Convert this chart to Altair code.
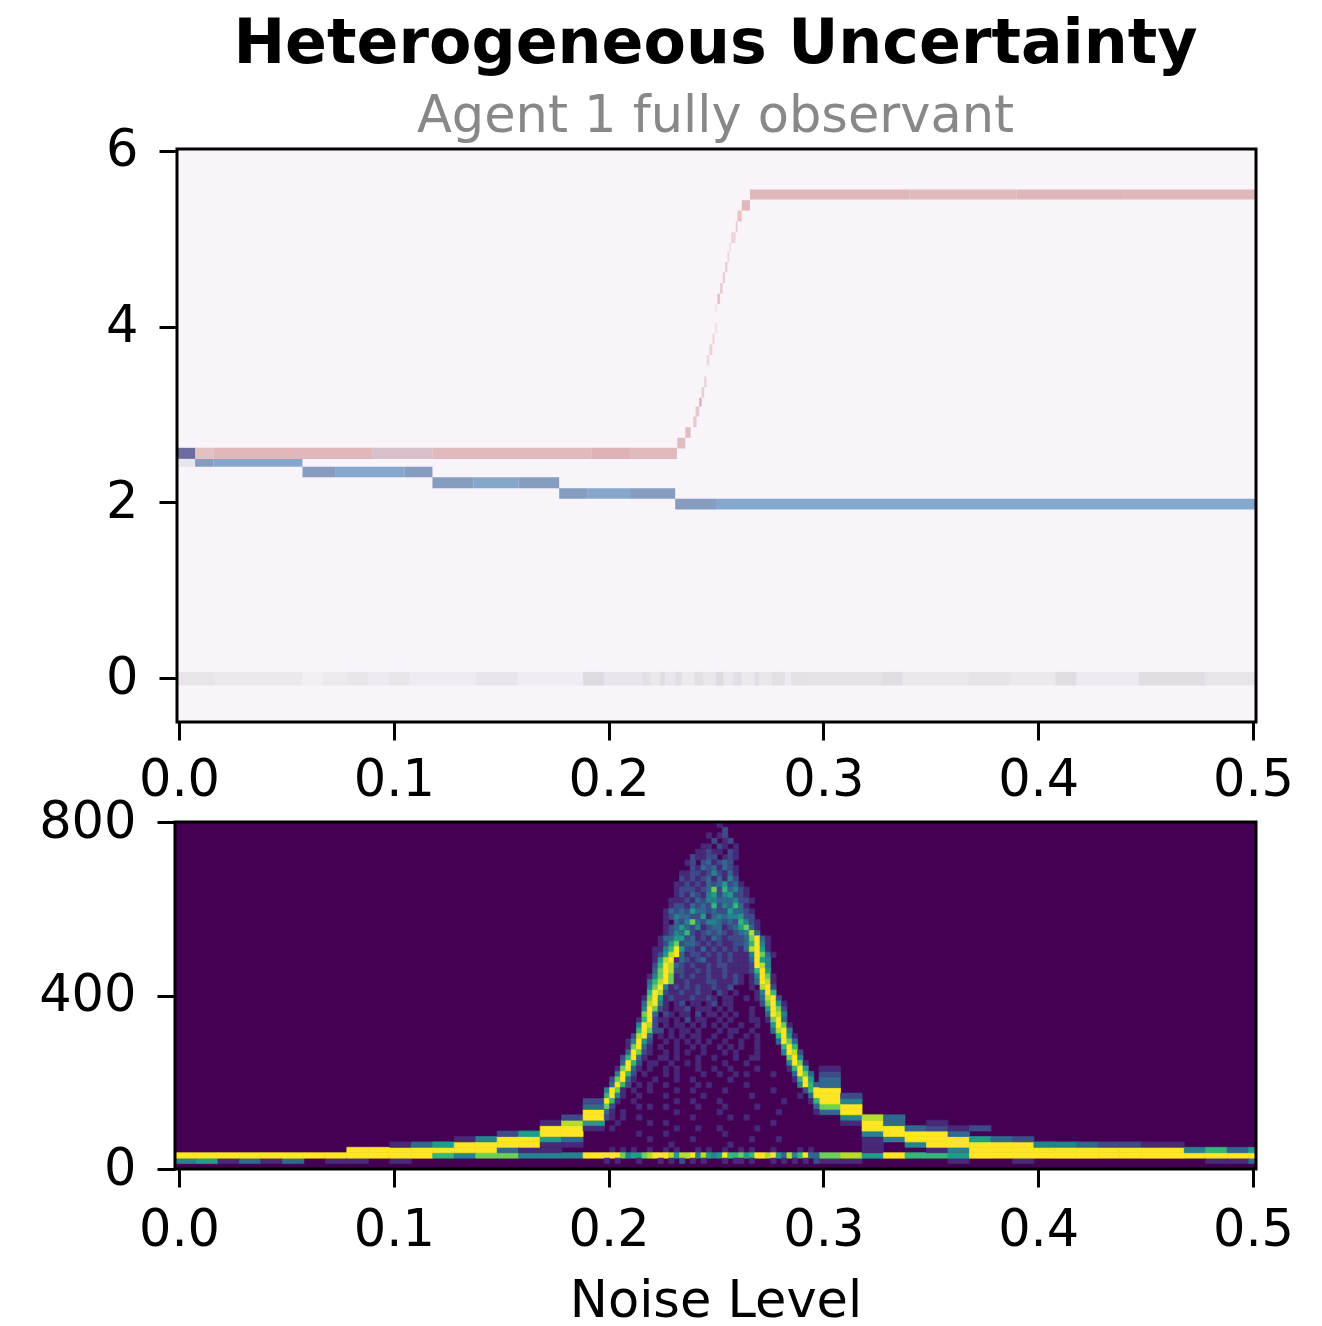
import altair as alt
import pandas as pd

FONT = "DejaVu Sans"
X_MIN, X_MAX = -0.00186, 0.5014
TOP_LEFT = -0.00093
X_TICKS = [0.0, 0.1, 0.2, 0.3, 0.4, 0.5]

# ---- top panel: bands (x0, x1, y0, y1, series, strength)
RED_FLAT = [
    (0.0075, 0.0160, "red", 0.70), (0.0160, 0.0900, "red", 0.82), (0.0900, 0.1180, "redgrey", 0.70),
    (0.1180, 0.1920, "red", 0.78), (0.1920, 0.2100, "red", 0.88), (0.2100, 0.2318, "red", 0.78),
]
RED_FLAT_Y = (2.494, 2.620)
RED_HIGH = [(0.2658, 0.3400, "red", 0.82), (0.3400, 0.3900, "red", 0.78), (0.3900, 0.4400, "red", 0.84),
            (0.4400, 0.5014, "red", 0.80)]
RED_HIGH_Y = (5.444, 5.558)
RISE = [
    (0.2320, 0.2357, 2.612, 2.734, 0.75), (0.2357, 0.2382, 2.734, 2.855, 0.75), (0.2394, 0.2410, 2.855, 2.976, 0.55),
    (0.2405, 0.2422, 2.976, 3.090, 0.60), (0.2422, 0.2433, 3.090, 3.189, 0.95), (0.2433, 0.2445, 3.189, 3.310, 0.50),
    (0.2445, 0.2456, 3.310, 3.432, 0.45), (0.2456, 0.2469, 3.554, 3.675, 0.35), (0.2469, 0.2483, 3.675, 3.797, 0.45),
    (0.2483, 0.2494, 3.797, 3.918, 0.35), (0.2494, 0.2506, 3.918, 4.040, 0.20), (0.2494, 0.2506, 4.161, 4.256, 0.15),
    (0.2506, 0.2519, 4.256, 4.374, 0.65), (0.2519, 0.2531, 4.374, 4.495, 0.55), (0.2531, 0.2542, 4.495, 4.617, 0.50),
    (0.2542, 0.2553, 4.617, 4.734, 0.50), (0.2553, 0.2562, 4.734, 4.856, 0.35), (0.2562, 0.2570, 4.856, 4.950, 0.30),
    (0.2570, 0.2592, 4.950, 5.072, 0.40), (0.2592, 0.2600, 5.072, 5.197, 0.55), (0.2600, 0.2620, 5.197, 5.319, 0.65),
    (0.2620, 0.2658, 5.319, 5.437, 0.80),
]
BLUE_STEPS = [
    (0.0075, 0.0575, 2.403, 2.494), (0.0575, 0.1180, 2.284, 2.403), (0.1180, 0.1770, 2.160, 2.284),
    (0.1770, 0.2310, 2.040, 2.160), (0.2310, 0.5014, 1.917, 2.040),
]
BLUE_STEP_TONES = [
    [(0.0075, 0.0160, "bluegrey"), (0.0160, 0.0575, "blue")],
    [(0.0575, 0.0730, "bluegrey"), (0.0730, 0.1050, "blue"), (0.1050, 0.1180, "bluegrey")],
    [(0.1180, 0.1370, "bluegrey"), (0.1370, 0.1580, "blue"), (0.1580, 0.1770, "bluegrey")],
    [(0.1770, 0.1900, "bluegrey"), (0.1900, 0.2100, "blue"), (0.2100, 0.2310, "bluegrey")],
    [(0.2310, 0.2500, "bluegrey"), (0.2500, 0.5014, "blue")],
]
OVERLAP_CELL = (X_MIN, 0.0075, 2.494, 2.620)
OVERLAP_UNDER = (X_MIN, 0.0075, 2.403, 2.494)
ZERO_Y = (-0.085, 0.070)
ZERO_EDGES = [
    X_MIN, 0.0168, 0.0572, 0.0670, 0.0783, 0.0880, 0.0977, 0.1074, 0.1381, 0.1575, 0.1882, 0.1979,
    0.2156, 0.2195, 0.2240, 0.2262, 0.2310, 0.2340, 0.2400, 0.2440, 0.2500, 0.2535, 0.2580, 0.2620,
    0.2680, 0.2700, 0.2760, 0.2820, 0.2850, 0.2932, 0.3272, 0.3369, 0.3676, 0.3870, 0.4080, 0.4177,
    0.4468, 0.4775, 0.5014,
]
ZERO_STRENGTH = [
    0.38, 0.28, 0.12, 0.25, 0.36, 0.22, 0.36, 0.20, 0.33, 0.18, 0.62, 0.35,
    0.50, 0.30, 0.60, 0.35, 0.55, 0.25, 0.50, 0.32, 0.62, 0.30, 0.48, 0.28,
    0.52, 0.34, 0.50, 0.22, 0.44, 0.42, 0.55, 0.30, 0.40, 0.28, 0.55, 0.22,
    0.55, 0.38,
]

# ---- bottom panel: coarse columns, each string is one column, bottom row first
ROW_H = 12.5
COARSE_W = 0.01
COARSE_START_LEFT = -0.00186
LEFT_COLS = [
    "049", "059", "019", "039", "019", "039", "009", "019", "0199", "0099",
    "01991", "00993", "00695", "004991", "007994", "0073992", "0041995",
    "004115991", "0040139982", "0090000159932",
]
RIGHT_START = 0.298
RIGHT_COLS = [
    "0170000000379993321", "01800000149942", "0051114998", "0090049933", "00604993",
    "006199921", "01549931", "00999502", "00999300", "01999200",
    "00994", "00994", "00993", "00992", "00992", "00991", "00991",
    "0094", "0196", "0193", "0395",
]

# ---- bottom panel: fine grid around the peak, 40 columns, rows listed from top (row 63) down
FINE_START = 0.198
FINE_W = 0.0025
FINE_TOP_ROW = 63
FINE_ROWS = [
    "..... ..... ..... ..... .1...",
    "..... ..... ..... ..... ..2..",
    "..... ..... ..... ....1 .12..",
    "..... ..... ..... ..... 2.12.",
    "..... ..... ..... ...11 .21.1",
    "..... ..... ..... ..112 11.21",
    "..... ..... ..... .2112 2.121",
    "..... ..... ..... 12.23 1232.",
    "..... ..... ..... .2132 31321",
    "..... ..... ....1 12212 42131",
    "..... ..... ....2 12123 13142",
    "..... ..... ...11 21213 23523 1",
    "..... ..... ...12 22123 72634 21",
    "..... ..... ...12 13214 52452 21",
    "..... ..... ..111 21324 43334 221",
    "..... ..... ..122 13232 62436 31",
    "..... ..... .1323 25332 32253 321",
    "..... ..... .1243 32251 34344 522",
    "..... ..... .1.32 47324 43232 6421.",
    "..... ..... .1235 32412 33123 5731.",
    "..... ..... .1243 62123 23212 3483.",
    "..... ..... 13355 23121 32122 23793 1",
    "..... ..... 12572 33212 12112 23694 1",
    "..... ....1 14695 22131 21212 13895 1",
    "..... ....1 25893 12212 12121 11497 31",
    "..... ....1 58913 21231 12121 11395 4",
    "..... ....2 69832 12112 12211 11298 4",
    "..... ....3 79822 11212 11211 11269 5",
    "..... ...14 79712 12112 11212 1.149 71",
    "..... ...36 89711 21112 21112 1.139 81...",
    "..... ...47 94121 21211 2112. ..1.8 92...",
    "..... ...69 82112 11211 .21.1 ...14 96...",
    "..... ..179 51211 12112 1.11. .1.13 892..",
    "..... ..389 41.12 .11.1 2.11. ....2 7951.",
    "..... ..497 21.11 2.111 .1.1. ..1.. 5972.",
    "..... ..793 .21.1 1.2.1 1.1.1 ..1.. 3984.",
    "..... .1692 11.1. 2.11. .1.1. ..11. 1793.",
    "..... .4982 .1.11 .1.1. 1.1.. 1..1. .5971",
    "..... .6972 2.1.1 1.1.. .1.11 ..1.. .3894",
    "..... 2893. 1.1.1 .11.. 1..1. .1.1. ..695 1",
    "....1 4952. .1.1. 1.1.1 ..1.. 1..1. ..397 3",
    "....1 7931. 1..1. .1.1. .1.1. 1..1. ...69 6",
    "....3 9721. .1.1. 1..1. ..1.1 ...1. ...49 82",
    "...26 931.. 11.1. ..1.. 1...1 ..11. ....7 94",
    "...39 62.11 ..1.. 1.1.. ..1.. .1... ....4 971",
    "..179 31.1. .1.1. ..1.. 1..1. ...1. ....1 695",
    "..496 2.1.. .1.1. ...1. .1..1 .1... .1... 3973",
    ".2793 1...1 ...1. .1... ...1. ..... ..... 1695",
    ".3962 .1.1. .1... ..1.1 ..... .1... ..... .4963",
    "4971. 1..1. ...1. .1... ..1.. ..... .1... ..269",
    "6941. .1... .1... ...1. ..... ..1.. ..... .1.39",
    "961.. 1.... ...1. .1... .1... ..... ...1. ...16",
    "72... .1.1. .1... ..1.. ..1.. ...1. ..... ....3",
    "31.1. ..... ...1. ..... .1... ..... ..1.. ....1",
    "21.1. .1... ..... .1... ...1. .1... ..... .....",
    "..1.. ...1. .1... ..... ..... ..... .1... .....",
    ".1... ..... ...1. ..1.. .1... ...1. ..... .....",
    "..... .1... .1... ..... ..1.. ..... ..... .....",
    "..... ...1. ..... .1... ..... ..1.. ..1.. .....",
    "..... ..... ..1.. ..... ...1. ..... ..... .....",
    ".1.1. 1..1. .1.1. ..1.1 ..1.. 1.1.. .1... .1.1.",
    "99974 55789 99858 89485 45966 75699 89538 46933",
    "1.1.. .1... 1.1.2 .1.1. ..1.1 1.1.. .1.1. 1.1.2",
]
FRAME_TOP = (TOP_LEFT, X_MAX, -0.5, 6.02)
FRAME_BOTTOM = (X_MIN, X_MAX, 0, 800)

# ---- tables
top_rows = []
for x0, x1, s, o in RED_FLAT:
    top_rows.append((x0, x1, *RED_FLAT_Y, s, o))
for x0, x1, s, o in RED_HIGH:
    top_rows.append((x0, x1, *RED_HIGH_Y, s, o))
for x0, x1, y0, y1, o in RISE:
    top_rows.append((x0, x1, y0, y1, "red", o))
for (a, b, y0, y1), tones in zip(BLUE_STEPS, BLUE_STEP_TONES):
    for x0, x1, s in tones:
        top_rows.append((x0, x1, y0, y1, s, 0.9))
top_rows.append((TOP_LEFT, OVERLAP_CELL[1], OVERLAP_CELL[2], OVERLAP_CELL[3], "both", 1.0))
top_rows.append((TOP_LEFT, OVERLAP_UNDER[1], OVERLAP_UNDER[2], OVERLAP_UNDER[3], "zero", 0.35))
for i, o in enumerate(ZERO_STRENGTH):
    top_rows.append((max(ZERO_EDGES[i], TOP_LEFT), ZERO_EDGES[i + 1], *ZERO_Y, "zero", o))
top_df = pd.DataFrame(top_rows, columns=["x0", "x1", "y0", "y1", "series", "strength"])

cells = []
for i, col in enumerate(LEFT_COLS):
    for r, ch in enumerate(col):
        if ch != "0":
            cells.append((COARSE_START_LEFT + COARSE_W * i, COARSE_START_LEFT + COARSE_W * (i + 1),
                          r * ROW_H, (r + 1) * ROW_H, int(ch)))
for i, col in enumerate(RIGHT_COLS):
    for r, ch in enumerate(col):
        if ch != "0":
            cells.append((RIGHT_START + COARSE_W * i, min(RIGHT_START + COARSE_W * (i + 1), X_MAX),
                          r * ROW_H, (r + 1) * ROW_H, int(ch)))
for k, row in enumerate(FINE_ROWS):
    r = FINE_TOP_ROW - k
    for j, ch in enumerate(row.replace(" ", "")):
        if ch != ".":
            cells.append((FINE_START + FINE_W * j, FINE_START + FINE_W * (j + 1),
                          r * ROW_H, (r + 1) * ROW_H, int(ch)))
cell_df = pd.DataFrame(cells, columns=["x0", "x1", "y0", "y1", "v"])

AX = dict(labelFont=FONT, labelFontSize=51, labelColor="black", tickColor="black", tickWidth=3,
          tickSize=18, domain=False, grid=False, title=None)

x_top = alt.X("x0:Q", scale=alt.Scale(domain=[X_MIN, X_MAX], nice=False, zero=False),
              axis=alt.Axis(values=X_TICKS, format=".1f", labelFlush=False, labelPadding=15, **AX))
x_bottom_axis = dict(AX)
x_bottom_axis.update(title="Noise Level", titleFont=FONT, titleFontSize=51, titleFontWeight="normal",
                     titleColor="black", titlePadding=21)
x_bot = alt.X("x0:Q", scale=alt.Scale(domain=[X_MIN, X_MAX], nice=False, zero=False),
              axis=alt.Axis(values=X_TICKS, format=".1f", labelFlush=False, labelPadding=18, **x_bottom_axis))


def frame(box):
    d = pd.DataFrame([dict(x0=box[0], x1=box[1], y0=box[2], y1=box[3])])
    return alt.Chart(d).mark_rect(filled=False, stroke="black", strokeWidth=3)


y_top = alt.Y("y0:Q", scale=alt.Scale(domain=[-0.5, 6.02], nice=False, zero=False),
              axis=alt.Axis(values=[0, 2, 4, 6], offset=-2, labelPadding=21, **AX))
top_bg = alt.Chart(pd.DataFrame([dict(x0=TOP_LEFT, x1=X_MAX, y0=-0.5, y1=6.02)])).mark_rect(color="#f8f4fa").encode(
    x=x_top, x2="x1:Q", y=y_top, y2="y1:Q")
top_cells = alt.Chart(top_df).mark_rect().encode(
    x=x_top, x2="x1:Q", y=y_top, y2="y1:Q",
    color=alt.Color("series:N", legend=None, scale=alt.Scale(
        domain=["red", "redgrey", "blue", "bluegrey", "both", "zero"],
        range=["#daa9ac", "#c9aab6", "#789ec7", "#7a94b9", "#6c6d9e", "#cfc9d0"])),
    opacity=alt.Opacity("strength:Q", legend=None, scale=None),
)
top_frame = frame(FRAME_TOP).encode(x=x_top, x2="x1:Q", y=y_top, y2="y1:Q")
top = alt.layer(top_bg, top_cells, top_frame).properties(
    width=1081, height=573,
    title=alt.TitleParams(
        "Heterogeneous Uncertainty", subtitle="Agent 1 fully observant", font=FONT, fontSize=61.8,
        fontWeight="bold", color="black", subtitleFont=FONT, subtitleFontSize=51, subtitleColor="#888888",
        subtitlePadding=16, anchor="middle", offset=-17),
)

y_bot = alt.Y("y0:Q", scale=alt.Scale(domain=[0, 800], nice=False, zero=False),
              axis=alt.Axis(values=[0, 400, 800], labelPadding=21, **AX))
bot_bg = alt.Chart(pd.DataFrame([dict(x0=X_MIN, x1=X_MAX, y0=0, y1=800)])).mark_rect(color="#440154").encode(
    x=x_bot, x2="x1:Q", y=y_bot, y2="y1:Q")
VIRIDIS = alt.Scale(scheme="viridis", domain=[0, 9])
bot_cells = alt.Chart(cell_df).mark_rect(strokeWidth=0.7).encode(
    x=x_bot, x2="x1:Q", y=y_bot, y2="y1:Q",
    color=alt.Color("v:Q", legend=None, scale=VIRIDIS),
    stroke=alt.Stroke("v:Q", legend=None, scale=VIRIDIS),
)
bot_frame = frame(FRAME_BOTTOM).encode(x=x_bot, x2="x1:Q", y=y_bot, y2="y1:Q")
bottom = alt.layer(bot_bg, bot_cells, bot_frame).properties(width=1081, height=347)

chart = alt.vconcat(top, bottom, spacing=-9).resolve_scale(color="independent", x="independent", y="independent").properties(
    padding={"left": 30, "top": 5, "right": 10, "bottom": 5}, background="white"
).configure_view(stroke=None)

chart.save("out.html", embed_options={"renderer": "svg", "actions": False})
